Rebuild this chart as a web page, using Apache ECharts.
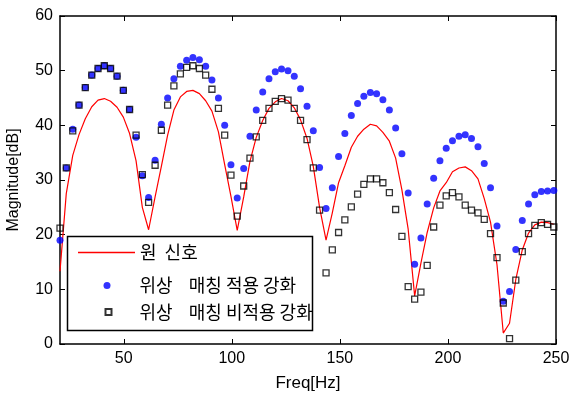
<!DOCTYPE html>
<html>
<head>
<meta charset="utf-8">
<script src="https://cdn.jsdelivr.net/npm/echarts@6/dist/echarts.min.js"></script>
<style>
  html, body { margin: 0; padding: 0; background: #fff; }
  #chart { width: 571px; height: 394px; }
</style>
</head>
<body>
<div id="chart"></div>
<script>
// frequency bins [Hz]
const freqHz = [20.5, 23.4, 26.4, 29.3, 32.2, 35.2, 38.1, 41.0, 43.9, 46.9,
  49.8, 52.7, 55.7, 58.6, 61.5, 64.5, 67.4, 70.3, 73.2, 76.2,
  79.1, 82.0, 85.0, 87.9, 90.8, 93.8, 96.7, 99.6, 102.5, 105.5,
  108.4, 111.3, 114.3, 117.2, 120.1, 123.0, 126.0, 128.9, 131.8, 134.8,
  137.7, 140.6, 143.6, 146.5, 149.4, 152.3, 155.3, 158.2, 161.1, 164.1,
  167.0, 169.9, 172.9, 175.8, 178.7, 181.6, 184.6, 187.5, 190.4, 193.4,
  196.3, 199.2, 202.1, 205.1, 208.0, 210.9, 213.9, 216.8, 219.7, 222.7,
  225.6, 228.5, 231.4, 234.4, 237.3, 240.2, 243.2, 246.1, 249.0]

// 원 신호
const originalDb = [13.3, 27.5, 34.5, 38.3, 41.2, 43.4, 44.6, 44.9, 44.4, 43.3,
  41.5, 38.5, 33.5, 25.0, 20.9, 26.9, 32.5, 38.2, 42.8, 45.2,
  46.2, 46.4, 45.8, 44.5, 42.6, 38.8, 32.8, 27.0, 20.8, 26.9,
  33.4, 37.8, 40.9, 43.1, 44.3, 44.9, 44.5, 43.2, 41.0, 37.6,
  32.5, 25.0, 19.0, 24.0, 29.5, 32.6, 36.0, 38.0, 39.3, 40.2,
  39.9, 38.7, 37.1, 34.0, 28.2, 21.0, 8.8, 14.8, 20.4, 24.9,
  28.0, 29.5, 31.5, 32.2, 32.4, 31.7, 30.2, 26.6, 22.3, 14.5,
  2.0, 3.8, 11.8, 17.2, 20.3, 21.8, 22.3, 22.2, 21.9]

// 위상 매칭 적용 강화
const matchedDb = [19.0, 32.2, 39.3, 43.7, 46.9, 49.2, 50.4, 50.9, 50.4, 49.0,
  46.4, 42.9, 37.8, 30.8, 26.8, 33.6, 40.2, 45.0, 48.5, 50.8,
  51.9, 52.4, 52.0, 50.8, 48.3, 45.0, 40.0, 32.8, 26.7, 32.1,
  38.0, 42.8, 46.1, 48.5, 49.8, 50.3, 50.0, 49.0, 46.7, 43.5,
  39.0, 32.3, 24.8, 28.6, 34.3, 38.5, 41.8, 44.0, 45.3, 46.0,
  45.8, 44.7, 42.8, 39.5, 34.8, 27.6, 14.6, 19.4, 25.6, 30.3,
  33.5, 35.8, 37.2, 38.0, 38.3, 37.6, 36.1, 33.0, 28.6, 21.6,
  7.8, 9.6, 17.3, 22.6, 25.6, 27.3, 27.9, 28.0, 28.1]

// 위상 매칭 비적용 강화
const unmatchedDb = [21.2, 32.2, 39.0, 43.7, 46.9, 49.2, 50.4, 50.9, 50.4, 49.0,
  46.4, 42.9, 38.2, 31.0, 25.9, 32.7, 39.1, 43.7, 47.2, 49.4,
  50.6, 50.9, 50.4, 49.2, 46.6, 43.1, 38.2, 30.9, 23.4, 28.9,
  34.0, 37.9, 40.9, 43.1, 44.4, 44.9, 44.6, 43.1, 40.9, 37.4,
  32.2, 24.5, 13.0, 17.2, 20.4, 22.7, 25.1, 27.4, 29.2, 30.2,
  30.2, 29.5, 27.7, 24.6, 19.7, 10.5, 8.2, 9.5, 14.4, 21.4,
  25.4, 27.1, 27.7, 26.9, 25.4, 24.5, 24.0, 22.8, 20.2, 15.8,
  7.5, 1.0, 11.7, 16.9, 20.2, 21.7, 22.2, 21.9, 21.4]

const xTicks = [50, 100, 150, 200, 250]
const seriesNames = ['원  신호', '위상    매칭 적용 강화', '위상    매칭 비적용 강화']

const toPairs = (ys) => freqHz.map((f, i) => [f, ys[i]])

const latinFont = 'Liberation Sans, Arial, sans-serif'
const koreanFont = 'Noto Sans CJK KR, sans-serif'

const axisLine = { show: true, onZero: false, lineStyle: { color: '#000', width: 1.5 } }
const tickStyle = { color: '#000', width: 1 }

const legendText = { fontFamily: koreanFont, fontSize: 18, color: '#000', lineHeight: 20 }

const legendBase = {
  orient: 'horizontal',
  padding: 0,
  selectedMode: false
}

const chart = echarts.init(document.getElementById('chart'), null, { renderer: 'canvas' })

const option = {
  animation: false,
  backgroundColor: '#fff',
  grid: {
    left: 60,
    right: 15,
    top: 16,
    bottom: 50,
    containLabel: false,
    outerBoundsMode: 'none'
  },
  xAxis: [
    {
      type: 'value',
      position: 'bottom',
      min: freqHz[0],
      max: 250,
      name: 'Freq[Hz]',
      nameLocation: 'middle',
      nameGap: 31,
      nameTextStyle: { fontFamily: latinFont, fontSize: 17, color: '#000' },
      axisLine: axisLine,
      axisTick: { show: true, inside: true, length: 5, customValues: xTicks, lineStyle: tickStyle },
      axisLabel: { customValues: xTicks, color: '#000', fontFamily: latinFont, fontSize: 16, margin: 7 },
      splitLine: { show: false }
    },
    {
      type: 'value',
      position: 'top',
      min: freqHz[0],
      max: 250,
      axisLine: axisLine,
      axisTick: { show: true, inside: true, length: 5, customValues: xTicks, lineStyle: tickStyle },
      axisLabel: { show: false },
      splitLine: { show: false }
    }
  ],
  yAxis: [
    {
      type: 'value',
      position: 'left',
      min: 0,
      max: 60,
      interval: 10,
      name: 'Magnitude[dB]',
      nameLocation: 'middle',
      nameGap: 38,
      nameTextStyle: { fontFamily: latinFont, fontSize: 16, color: '#000' },
      axisLine: axisLine,
      axisTick: { show: true, inside: true, length: 5, lineStyle: tickStyle },
      axisLabel: { color: '#000', fontFamily: latinFont, fontSize: 16, margin: 7 },
      splitLine: { show: false }
    },
    {
      type: 'value',
      position: 'right',
      min: 0,
      max: 60,
      interval: 10,
      axisLine: axisLine,
      axisTick: { show: true, inside: true, length: 5, lineStyle: tickStyle },
      axisLabel: { show: false },
      splitLine: { show: false }
    }
  ],
  legend: [
    // plain red bar, no marker in the middle
    Object.assign({}, legendBase, {
      data: [{ name: seriesNames[0], icon: 'rect' }],
      left: 78, top: 242.5, itemWidth: 57, itemHeight: 1.4,
      textStyle: legendText
    }),
    // marker-sized icons, text pushed right with padding
    Object.assign({}, legendBase, {
      data: [seriesNames[1]],
      left: 103.5, top: 275.5, itemWidth: 7, itemHeight: 7,
      textStyle: Object.assign({}, legendText, { padding: [0, 0, 0, 24] })
    }),
    Object.assign({}, legendBase, {
      data: [seriesNames[2]],
      left: 103, top: 302, itemWidth: 6, itemHeight: 6,
      textStyle: Object.assign({}, legendText, { padding: [0, 0, 0, 23] })
    })
  ],
  graphic: [
    {
      type: 'rect',
      z: 3,
      shape: { x: 67.5, y: 236.5, width: 245, height: 94 },
      style: { fill: '#fff', stroke: '#000', lineWidth: 1.5 }
    }
  ],
  series: [
    {
      name: seriesNames[0],
      type: 'line',
      data: toPairs(originalDb),
      symbol: 'none',
      clip: true,
      lineStyle: { color: '#ff0000', width: 1.2 },
      itemStyle: { color: '#ff0000' },
      z: 2
    },
    {
      name: seriesNames[1],
      type: 'scatter',
      data: toPairs(matchedDb),
      symbol: 'circle',
      symbolSize: 7,
      itemStyle: { color: '#0000ff' },
      z: 2
    },
    {
      name: seriesNames[2],
      type: 'scatter',
      data: toPairs(unmatchedDb),
      symbol: 'rect',
      symbolSize: 6,
      itemStyle: { color: 'none', borderColor: '#000', borderWidth: 1.3 },
      z: 2
    }
  ]
}

chart.setOption(option)
</script>
</body>
</html>
